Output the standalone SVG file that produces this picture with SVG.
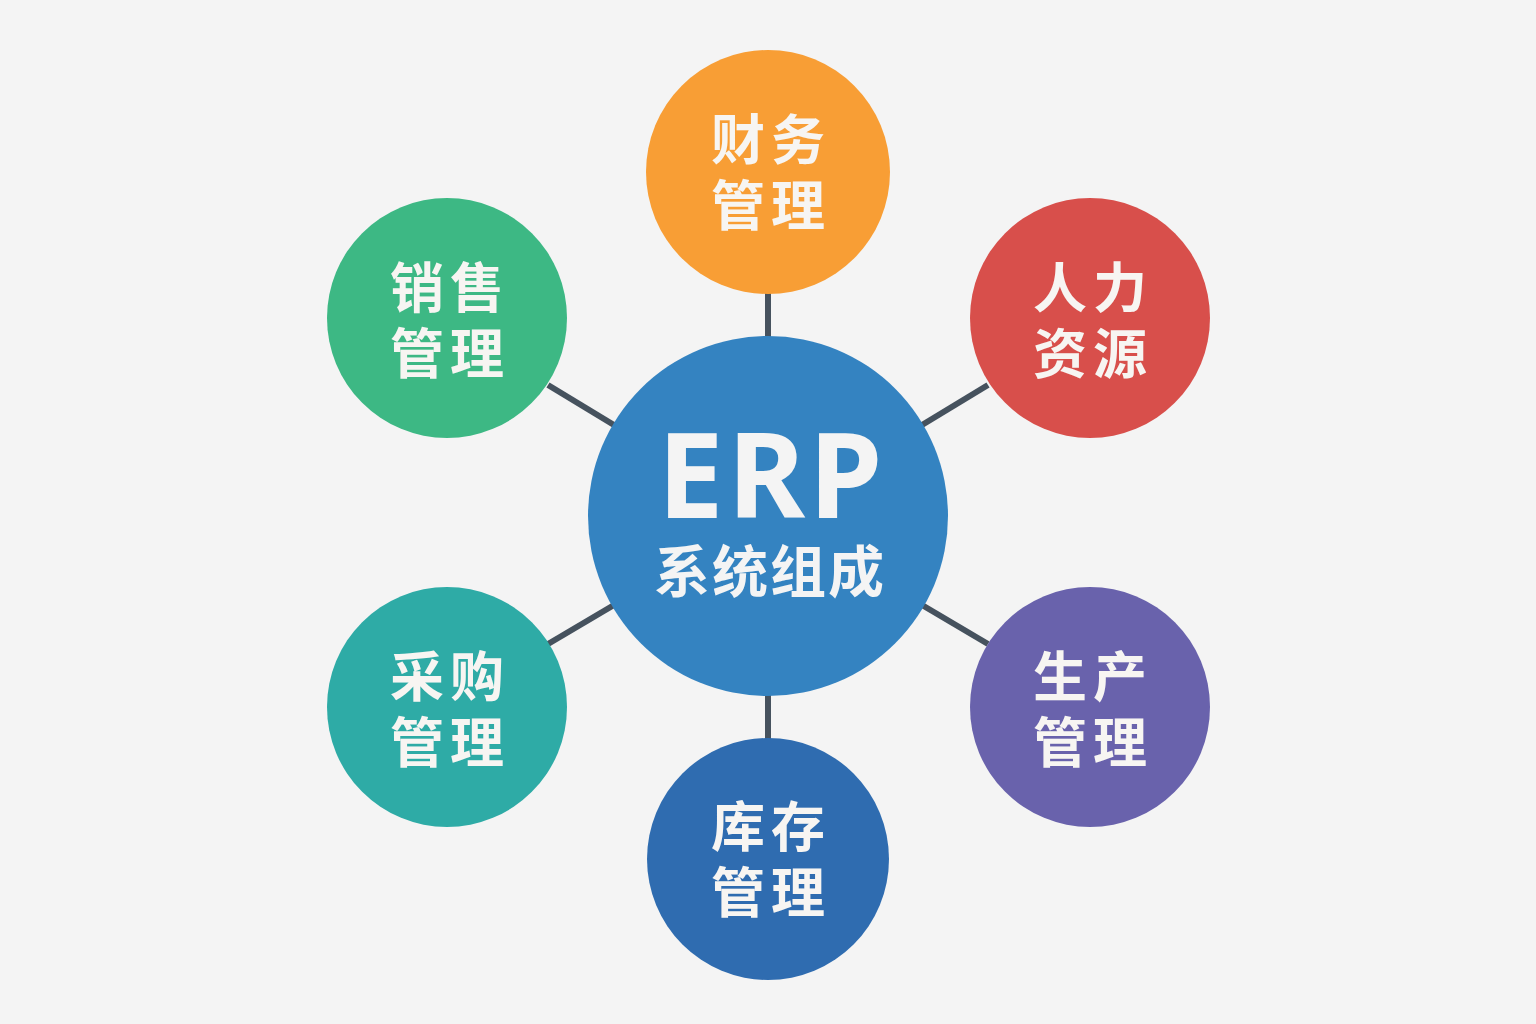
<svg xmlns="http://www.w3.org/2000/svg" width="1536" height="1024" viewBox="0 0 1536 1024">
<style>
.bg{fill:#F4F4F4}
.conn line{stroke:#46525E;stroke-width:6}
.lbl{font-family:"Noto Sans CJK SC","Noto Sans",sans-serif;font-weight:700;font-size:54px;fill:#F7F5F2;text-anchor:middle;letter-spacing:6px}
.erp{font-family:"Noto Sans","Liberation Sans",sans-serif;font-weight:700;font-size:118px;fill:#F4F4F4;text-anchor:middle;letter-spacing:4px}
.sub{font-family:"Noto Sans CJK SC","Noto Sans",sans-serif;font-weight:700;font-size:56px;fill:#F4F4F4;text-anchor:middle;letter-spacing:2px}
</style>
<rect class="bg" width="1536" height="1024"/>
<g id="connectors" class="conn">
<line x1="768" y1="292" x2="768" y2="340"/>
<line x1="768" y1="692" x2="768" y2="740"/>
<line x1="548" y1="385" x2="614" y2="425"/>
<line x1="988" y1="385" x2="922" y2="425"/>
<line x1="548" y1="644" x2="614" y2="605"/>
<line x1="988" y1="644" x2="922" y2="605"/>
</g>
<g id="center">
<circle cx="768" cy="516" r="180" fill="#3483C1"/>
<text x="772" y="518"><tspan class="erp">ERP</tspan><tspan class="sub" x="770" y="592">系统组成</tspan></text>
</g>
<g id="finance">
<circle cx="768" cy="172" r="122" fill="#F89E35"/>
<text class="lbl" x="771" y="160">财务<tspan x="771" y="226">管理</tspan></text>
</g>
<g id="hr">
<circle cx="1090" cy="318" r="120" fill="#D84F4B"/>
<text class="lbl" x="1093" y="308">人力<tspan x="1093" y="374">资源</tspan></text>
</g>
<g id="sales">
<circle cx="447" cy="318" r="120" fill="#3DB884"/>
<text class="lbl" x="450" y="308">销售<tspan x="450" y="374">管理</tspan></text>
</g>
<g id="purchase">
<circle cx="447" cy="707" r="120" fill="#2EABA6"/>
<text class="lbl" x="450" y="697">采购<tspan x="450" y="763">管理</tspan></text>
</g>
<g id="production">
<circle cx="1090" cy="707" r="120" fill="#6962AC"/>
<text class="lbl" x="1093" y="697">生产<tspan x="1093" y="763">管理</tspan></text>
</g>
<g id="inventory">
<circle cx="768" cy="859" r="121" fill="#2F6CB0"/>
<text class="lbl" x="771" y="847">库存<tspan x="771" y="913">管理</tspan></text>
</g>
</svg>
